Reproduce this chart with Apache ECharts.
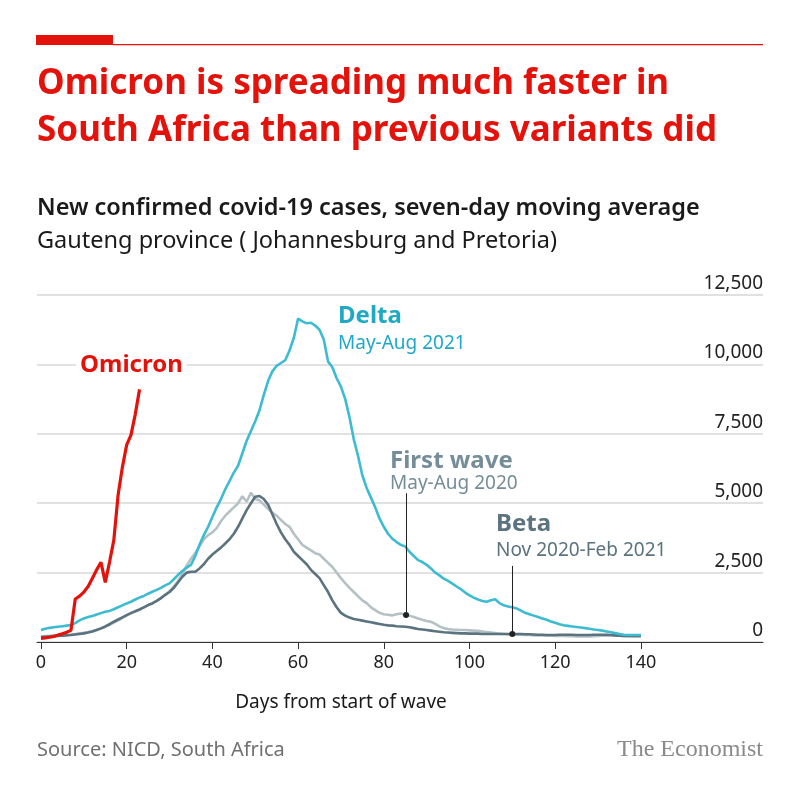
<!DOCTYPE html>
<html>
<head>
<meta charset="utf-8">
<script src="https://cdn.jsdelivr.net/npm/echarts@6/dist/echarts.min.js"></script>
<style>
  html, body { margin: 0; padding: 0; background: #fff; }
  #chart { width: 800px; height: 800px; }
</style>
</head>
<body>
<div id="chart"></div>
<script>
// daily values, day 0 = start of wave
const omicron = [130, 150, 170, 200, 250, 300, 350, 420, 1550, 1650, 1800, 2000, 2300, 2600, 2870, 2150,
  2880, 3670, 5300, 6300, 7100, 7450, 8200, 9100];

const delta = [430, 480, 510, 530, 550, 570, 590, 610, 680, 780, 850, 900, 940, 990, 1040, 1090,
  1120, 1180, 1250, 1320, 1390, 1450, 1530, 1600, 1660, 1740, 1810, 1880, 1950, 2040, 2110, 2260,
  2420, 2560, 2680, 2780, 3100, 3500, 3850, 4150, 4500, 4850, 5150, 5500, 5800, 6100, 6350, 6800,
  7250, 7600, 7950, 8350, 8900, 9400, 9750, 9950, 10050, 10150, 10500, 10950, 11650, 11550, 11480, 11500,
  11400, 11250, 10900, 10100, 9900, 9500, 9200, 8750, 8100, 7300, 6700, 6000, 5550, 5200, 4850, 4450,
  4150, 3900, 3720, 3600, 3500, 3440, 3250, 3100, 2950, 2880, 2780, 2650, 2500, 2400, 2280, 2200,
  2100, 2000, 1900, 1780, 1680, 1600, 1530, 1480, 1450, 1500, 1540, 1400, 1320, 1280, 1250, 1210,
  1130, 1050, 1000, 950, 900, 850, 800, 740, 690, 640, 600, 580, 560, 540, 520, 500,
  480, 450, 430, 410, 380, 350, 320, 290, 260, 250, 250, 250, 250];

const firstWave = [200, 210, 220, 230, 240, 250, 260, 270, 290, 310, 330, 360, 400, 440, 490, 550,
  620, 700, 780, 870, 960, 1040, 1100, 1170, 1250, 1330, 1400, 1480, 1580, 1700, 1830, 2000,
  2200, 2450, 2750, 3000, 3200, 3450, 3700, 3850, 3950, 4100, 4350, 4550, 4700, 4850, 5000, 5250,
  5050, 5380, 5150, 5100, 4950, 4800, 4650, 4550, 4400, 4250, 4150, 3900, 3700, 3500, 3400, 3300,
  3200, 3150, 3000, 2850, 2700, 2500, 2300, 2120, 1950, 1800, 1650, 1500, 1400, 1250, 1150, 1050,
  1000, 980, 960, 1000, 1030, 970, 950, 900, 850, 800, 760, 730, 650, 560, 500, 470,
  450, 440, 430, 430, 420, 410, 400, 380, 360, 340, 320, 300, 290, 280, 270, 260,
  260, 250, 250, 240, 240, 240, 230, 230, 220, 220, 220, 210, 210, 200, 200, 200,
  200, 210, 220, 230, 230, 240, 240, 230, 220, 210, 200, 200, 200];

const beta = [180, 190, 200, 210, 220, 230, 240, 250, 270, 290, 310, 340, 380, 430, 490, 560,
  640, 730, 810, 890, 970, 1040, 1110, 1170, 1250, 1330, 1390, 1480, 1580, 1700, 1800, 1950,
  2150, 2350, 2500, 2530, 2530, 2650, 2800, 3000, 3150, 3280, 3400, 3550, 3700, 3900, 4150, 4450,
  4750, 5000, 5230, 5260, 5150, 4950, 4600, 4250, 3950, 3700, 3500, 3250, 3100, 2950, 2800, 2600,
  2450, 2300, 2050, 1800, 1500, 1250, 1050, 950, 880, 830, 800, 770, 740, 710, 680, 650,
  620, 600, 590, 570, 560, 550, 530, 500, 470, 450, 430, 410, 390, 370, 350, 340,
  330, 320, 310, 310, 300, 300, 300, 290, 290, 290, 290, 290, 290, 290, 290, 290,
  290, 280, 280, 270, 260, 260, 250, 250, 250, 260, 260, 260, 260, 250, 250, 250,
  250, 260, 260, 260, 260, 250, 240, 230, 220, 220, 220, 220, 220];

const dayTicks = [0, 20, 40, 60, 80, 100, 120, 140];
const caseTicks = [0, 2500, 5000, 7500, 10000, 12500];

const pairs = arr => arr.map((v, i) => [i, v]);

const font = '"Noto Sans", sans-serif';
const red = '#e3120b';
const teal = '#3dbbd1';
const lightGrey = '#b6c1c6';
const firstWaveText = '#758d99';
const slate = '#5b737e';

const chart = echarts.init(document.getElementById('chart'), null, { renderer: 'canvas' });

chart.setOption({
  animation: false,
  backgroundColor: '#fff',
  grid: { left: 37, right: 37, top: 295, bottom: 158 },
  xAxis: {
    type: 'value',
    min: -0.93,
    max: 168.5,
    splitLine: { show: false },
    axisLine: { show: true, onZero: false, lineStyle: { color: '#333', width: 1 } },
    axisTick: { show: true, customValues: dayTicks, length: 7, lineStyle: { color: '#333' } },
    axisLabel: { customValues: dayTicks, color: '#222', fontFamily: font, fontSize: 18, margin: 12 }
  },
  yAxis: {
    type: 'value',
    position: 'right',
    min: 0,
    max: 12500,
    interval: 2500,
    axisLine: { show: false },
    axisTick: { show: false },
    splitLine: { lineStyle: { color: '#d7d7d7', width: 1.5 } },
    axisLabel: {
      inside: true,
      margin: 0,
      verticalAlign: 'bottom',
      padding: [0, 0, 2, 0],
      color: '#222',
      fontFamily: font,
      fontSize: 19,
      formatter: v => v.toLocaleString('en-US')
    }
  },
  series: [
    {
      name: 'First wave', type: 'line', data: pairs(firstWave), showSymbol: false,
      lineStyle: { color: lightGrey, width: 2.6 }, z: 2,
      markLine: {
        silent: true, symbol: ['circle', 'none'], symbolSize: 6,
        label: { show: false },
        lineStyle: { color: '#222', width: 1, type: 'solid' },
        data: [[{ coord: [85.2, 970] }, { coord: [85.2, 5360] }]]
      }
    },
    {
      name: 'Beta', type: 'line', data: pairs(beta), showSymbol: false,
      lineStyle: { color: slate, width: 2.6 }, z: 3,
      markLine: {
        silent: true, symbol: ['circle', 'none'], symbolSize: 6,
        label: { show: false },
        lineStyle: { color: '#222', width: 1, type: 'solid' },
        data: [[{ coord: [110, 290] }, { coord: [110, 2740] }]]
      }
    },
    {
      name: 'Delta', type: 'line', data: pairs(delta), showSymbol: false,
      lineStyle: { color: teal, width: 2.6 }, z: 4
    },
    {
      name: 'Omicron', type: 'line', data: pairs(omicron), showSymbol: false,
      lineStyle: { color: red, width: 3.2 }, z: 5
    }
  ],
  graphic: [
    { type: 'rect', shape: { x: 36, y: 35, width: 77, height: 10 }, style: { fill: red } },
    { type: 'rect', shape: { x: 113, y: 44, width: 650, height: 1.2 }, style: { fill: red } },
    { type: 'text', x: 37, y: 84, style: { text: 'Omicron is spreading much faster in', fill: red,
      font: 'bold 35px ' + font, textVerticalAlign: 'middle' } },
    { type: 'text', x: 37, y: 131, style: { text: 'South Africa than previous variants did', fill: red,
      font: 'bold 35px ' + font, textVerticalAlign: 'middle' } },
    { type: 'text', x: 37, y: 208, style: { text: 'New confirmed covid-19 cases, seven-day moving average', fill: '#1a1a1a',
      font: '600 23.5px ' + font, textVerticalAlign: 'middle' } },
    { type: 'text', x: 37, y: 241, style: { text: 'Gauteng province ( Johannesburg and Pretoria)', fill: '#1a1a1a',
      font: '23.5px ' + font, textVerticalAlign: 'middle' } },
    { type: 'text', x: 76, y: 365, z: 10, style: { text: 'Omicron', fill: red, font: 'bold 24px ' + font,
      textVerticalAlign: 'middle', backgroundColor: '#fff', padding: [0, 4] } },
    { type: 'text', x: 338, y: 316, style: { text: 'Delta', fill: '#1fa9c4', font: 'bold 24px ' + font, textVerticalAlign: 'middle' } },
    { type: 'text', x: 338, y: 344, style: { text: 'May-Aug 2021', fill: '#1fa9c4', font: '19px ' + font, textVerticalAlign: 'middle' } },
    { type: 'text', x: 390, y: 461, style: { text: 'First wave', fill: firstWaveText, font: 'bold 24px ' + font, textVerticalAlign: 'middle' } },
    { type: 'text', x: 390, y: 484, style: { text: 'May-Aug 2020', fill: firstWaveText, font: '19px ' + font, textVerticalAlign: 'middle' } },
    { type: 'text', x: 496, y: 524, style: { text: 'Beta', fill: slate, font: 'bold 24px ' + font, textVerticalAlign: 'middle' } },
    { type: 'text', x: 496, y: 551, style: { text: 'Nov 2020-Feb 2021', fill: slate, font: '19px ' + font, textVerticalAlign: 'middle' } },
    { type: 'text', x: 341, y: 703, style: { text: 'Days from start of wave', fill: '#1a1a1a', font: '19px ' + font,
      textAlign: 'center', textVerticalAlign: 'middle' } },
    { type: 'text', x: 37, y: 750, style: { text: 'Source: NICD, South Africa', fill: '#707070', font: '20px ' + font, textVerticalAlign: 'middle' } },
    { type: 'text', x: 763, y: 750, style: { text: 'The Economist', fill: '#8a8a8a', font: '24px "Liberation Serif", serif',
      textAlign: 'right', textVerticalAlign: 'middle' } }
  ]
});
</script>
</body>
</html>
